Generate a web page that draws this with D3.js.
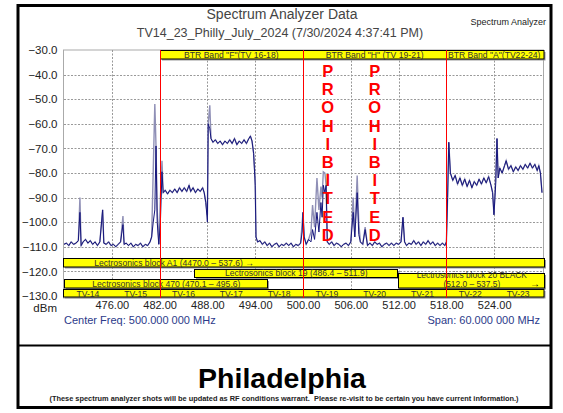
<!DOCTYPE html>
<html><head><meta charset="utf-8">
<script src="https://cdn.jsdelivr.net/npm/d3@7"></script>
<style>body{margin:0;background:#fff}svg{display:block}</style>
</head><body><svg id="c" width="563" height="413"></svg>
<script>
// ---------- DATA ----------
const freqMHz = [
 470.0,470.3,470.6,470.9,471.2,471.5,471.8,472.0,472.15,472.4,472.7,473.0,473.3,473.6,473.9,474.2,474.5,474.85,475.0,475.3,475.6,475.9,476.2,476.5,476.8,477.1,477.4,477.55,477.8,478.1,478.4,478.7,479.0,479.3,479.6,479.9,480.2,480.5,480.8,481.0,
 481.2,481.4,481.55,481.7,481.9,482.1,482.3,482.45,482.7,483.0,483.3,483.6,483.9,484.2,484.5,484.8,485.1,485.4,485.7,485.9,486.2,486.5,486.8,487.1,487.4,487.6,487.8,488.0,
 488.1,488.3,488.45,488.7,489.0,489.3,489.6,489.9,490.2,490.5,490.8,491.1,491.4,491.7,492.0,492.3,492.6,492.9,493.2,493.4,493.6,493.8,494.0,
 494.1,494.3,494.6,494.9,495.2,495.5,495.8,496.1,496.4,496.7,497.0,497.3,497.6,497.9,498.2,498.5,498.8,499.1,499.4,499.7,499.9,
 500.0,500.15,500.4,500.7,501.0,501.2,501.45,501.75,502.0,502.25,502.4,502.55,502.75,502.9,503.05,503.3,503.6,503.9,504.2,504.5,504.8,505.1,505.4,505.7,506.0,506.3,506.5,506.8,507.0,507.2,
 507.5,507.8,508.1,508.4,508.7,509.0,509.3,509.6,509.9,510.2,510.5,510.8,511.1,511.4,511.7,512.0,512.3,512.55,512.75,513.0,513.3,513.6,513.9,514.2,514.5,514.8,515.1,515.4,515.7,516.0,516.3,516.6,516.9,517.2,517.5,517.8,518.0,
 518.15,518.3,518.5,518.8,519.1,519.4,519.7,520.0,520.3,520.6,520.9,521.2,521.5,521.8,522.1,522.4,522.7,523.0,523.3,523.6,523.8,523.97,
 524.2,524.35,524.5,524.7,525.0,525.3,525.5,525.8,526.1,526.4,526.7,527.0,527.3,527.6,527.9,528.2,528.5,528.8,529.1,529.4,529.6,529.8,530.0
];
const liveDbm = [
 -109,-108.5,-109.5,-108,-109,-108.5,-107.5,-96,-109.5,-108,-107,-108.5,-107.5,-109,-108,-109.5,-108,-95,-108.5,-109,-108,-109.5,-109,-110,-109,-108,-101,-109,-108.5,-109.5,-108.5,-110,-109,-109.5,-108.5,-110,-109,-109.5,-108,-106,
 -100,-95,-69,-100,-109,-100,-79.5,-88,-87,-88.5,-87,-88,-86.5,-88,-86,-87.5,-86,-87.5,-85,-87.5,-86,-88,-86.5,-87.5,-86,-88,-92,-100,
 -60,-62,-66,-67.5,-66.5,-68,-67,-68.5,-67,-68,-66.5,-68,-66,-68.5,-67,-68,-66.5,-68,-66,-65,-67,-72,-85,
 -106,-108,-107.5,-109,-108,-109.5,-108.5,-110,-109,-108.5,-110,-109,-109.5,-108.5,-109.5,-108.5,-110,-109,-109.5,-108.5,-104,
 -96,-106,-109,-107,-108,-103,-107,-96,-104,-92,-98,-85,-88,-85,-108,-109,-108,-109.5,-108.5,-109,-110,-109,-108.5,-109.5,-108,-96,-106,-88,-105,-108,
 -109,-103,-109.5,-108.5,-109.5,-108,-109,-108.5,-110,-109,-108.5,-109.5,-108.5,-109.5,-108.5,-109,-108,-98,-108,-109.5,-108.5,-109,-107.5,-109,-108,-109.5,-108,-109,-107.5,-109,-108,-109.5,-108.5,-109.5,-108.5,-109.5,-108,
 -90,-67.5,-80,-83,-81,-84.5,-82,-85,-82.5,-85.5,-83,-86,-83.5,-85,-82.5,-84.5,-82,-84,-81.5,-85,-88,-97,
 -84,-66,-82,-78,-80,-77,-75,-78.5,-77,-79.5,-77.5,-79,-77,-78.5,-76.5,-78,-76,-78,-76.5,-79,-77,-80,-88
];
// peak-hold trace: equal to the live trace except where a held peak rises above it
const peakFreqs = [472.0,477.4,481.2,481.4,481.7,482.1,482.3,488.0,488.3,494.0,499.9,501.0,501.2,501.45,501.75,502.0,502.25,502.4,502.55,502.75,506.3,506.8,507.0,507.8,524.2];
const peakVals  = [-90,-97.5,-79,-52,-95,-90,-75,-97,-52.5,-82,-100,-104,-93,-102,-82,-95,-85.5,-90,-79.5,-80,-90,-81,-100,-102,-80];
const yTicks = [-30,-40,-50,-60,-70,-80,-90,-100,-110,-120,-130];
const xTicks = [476,482,488,494,500,506,512,518,524];
const bandEdges = [482,500,518];
const btrLabels = ['BTR Band "F"(TV 16-18)','BTR Band "H" (TV 19-21)','BTR Band "A"(TV22-24)'];
const btrRanges = [[482,500],[500,518],[518,530]];
const tvLabels = ["TV-14","TV-15","TV-16","TV-17","TV-18","TV-19","TV-20","TV-21","TV-22","TV-23"];
const tvStart = [470,476,482,488,494,500,506,512,518,524];
const blockNames = ["Lectrosonics block A1 (4470.0 – 537.6) →","Lectrosonics block 19 (486.4 – 511.9)","Lectrosonics block 470 (470.1 – 495.6)","Lectrosonics block 20 BLACK|(512.0 – 537.5)"];
const blockLo = [470,486.4,470.1,512.0];
const blockHi = [537.6,511.9,495.6,537.5];
const prohibitedWord = "PROHIBITED";
const prohibitedAt = [503.1,509.0];

// ---------- LAYOUT ----------
const svg = d3.select("#c");
const X0 = 64, X1 = 542, XB = 544, YT = 50, YB = 298;
const x = d3.scaleLinear().domain([470,530]).range([X0,X1]);
const y = d3.scaleLinear().domain([-30,-130]).range([YT,296]);
const font = "Arial, 'Liberation Sans', sans-serif";

svg.append("rect").attr("width",563).attr("height",413).attr("fill","#fff");

// titles
svg.append("text").attr("x",282).attr("y",19).attr("text-anchor","middle")
  .attr("font-family",font).attr("font-size",14).attr("fill","#444").text("Spectrum Analyzer Data");
svg.append("text").attr("x",280).attr("y",37).attr("text-anchor","middle")
  .attr("font-family",font).attr("font-size",12.5).attr("fill","#444").text("TV14_23_Philly_July_2024 (7/30/2024 4:37:41 PM)");

// plot background & grid
const g = svg.append("g");
g.append("rect").attr("x",X0-0.5).attr("y",YT).attr("width",XB-X0).attr("height",YB-YT)
  .attr("fill","#fff").attr("stroke","#aaa");
g.selectAll("line.hg").data(yTicks.slice(1,-1)).join("line")
  .attr("x1",X0).attr("x2",XB).attr("y1",d=>Math.round(y(d))+0.5).attr("y2",d=>Math.round(y(d))+0.5)
  .attr("stroke","#999").attr("stroke-dasharray","2,1.5").attr("stroke-width",1);
g.selectAll("line.vg").data(xTicks.filter(t=>!bandEdges.includes(t))).join("line")
  .attr("x1",d=>Math.round(x(d))+0.5).attr("x2",d=>Math.round(x(d))+0.5).attr("y1",YT).attr("y2",YB)
  .attr("stroke","#999").attr("stroke-dasharray","2,1.5").attr("stroke-width",1);

// axes labels
const yAxis = d3.axisLeft(y).tickValues(yTicks).tickSize(0).tickPadding(6).tickFormat(d3.format(".1f"));
const ya = svg.append("g").attr("transform",`translate(${X0-0.5},0)`).call(yAxis);
ya.select(".domain").remove();
ya.selectAll("text").attr("font-family",font).attr("font-size",11.5).attr("fill","#222");
const xAxis = d3.axisBottom(x).tickValues(xTicks).tickSize(0).tickPadding(3).tickFormat(d3.format(".2f"));
const xa = svg.append("g").attr("transform",`translate(0,${YB})`).call(xAxis);
xa.select(".domain").remove();
xa.selectAll("text").attr("font-family",font).attr("font-size",11).attr("fill","#222");
svg.append("text").attr("x",57).attr("y",312).attr("text-anchor","end").attr("font-family",font)
  .attr("font-size",11.5).attr("fill","#222").text("dBm");
svg.append("text").attr("x",64).attr("y",324).attr("font-family",font)
  .attr("font-size",11).attr("fill","#2b3a8a").text("Center Freq: 500.000 000 MHz");
svg.append("text").attr("x",540).attr("y",324).attr("text-anchor","end").attr("font-family",font)
  .attr("font-size",11).attr("fill","#2b3a8a").text("Span: 60.000 000 MHz");

// traces
const n = Math.min(freqMHz.length, liveDbm.length);
const idx = d3.range(n);
const peakMap = new Map(peakFreqs.map((f,i)=>[f,peakVals[i]]));
const peakAt = i => peakMap.has(freqMHz[i]) ? peakMap.get(freqMHz[i]) : liveDbm[i];
svg.append("clipPath").attr("id","pc").append("rect").attr("x",X0).attr("y",YT).attr("width",X1-X0+1).attr("height",YB-YT);
const tr = svg.append("g").attr("clip-path","url(#pc)");
tr.append("path").datum(idx).attr("fill","none").attr("stroke","#8f8fb6").attr("stroke-width",1.4)
  .attr("d",d3.line().x(i=>x(freqMHz[i])).y(i=>y(peakAt(i))));
tr.append("path").datum(idx).attr("fill","none").attr("stroke","#16167c").attr("stroke-width",1)
  .attr("d",d3.line().x(i=>x(freqMHz[i])).y(i=>y(liveDbm[i])));

// yellow box helper
function ybox(parent,x0,y0,w,h){
  parent.append("rect").attr("x",x0+1.5).attr("y",y0+1.5).attr("width",w).attr("height",h).attr("fill","#9a9a9a");
  parent.append("rect").attr("x",x0).attr("y",y0).attr("width",w).attr("height",h)
    .attr("fill","#ffff00").attr("stroke","#000").attr("stroke-width",1);
}
const lab = svg.append("g");

// top BTR bar
ybox(lab, Math.round(x(482))+0.5, 50.5, XB-Math.round(x(482))-0.5, 8.5);
btrLabels.forEach((t,i)=>{
  lab.append("text").attr("x",(x(btrRanges[i][0])+x(btrRanges[i][1]))/2).attr("y",57.5)
    .attr("text-anchor","middle").attr("font-family",font).attr("font-size",8.6).attr("fill","#333").text(t);
});

// bottom blocks
const rowY = [258.5,269.5,279.5,273.5];
const rowH = [8.5,8,8.5,14.5];
const order = [0,2,1,3];
order.forEach(i=>{
  const a = Math.max(x(blockLo[i]),X0-1), b = Math.min(x(blockHi[i]),XB+1);
  ybox(lab, Math.round(a)-0.5, rowY[i], Math.round(b)-Math.round(a), rowH[i]);
  const parts = blockNames[i].split("|");
  if(parts.length===1){
    const cx = i===0 ? 174 : (a+b)/2;
    lab.append("text").attr("x",cx).attr("y",rowY[i]+rowH[i]-1.5).attr("text-anchor","middle")
      .attr("font-family",font).attr("font-size",8.6).attr("fill","#333").text(parts[0]);
  } else {
    const cx=(a+b)/2;
    lab.append("text").attr("x",cx).attr("y",rowY[i]+4.5).attr("text-anchor","middle")
      .attr("font-family",font).attr("font-size",8.4).attr("fill","#333").text(parts[0]);
    lab.append("text").attr("x",cx).attr("y",rowY[i]+13.5).attr("text-anchor","middle")
      .attr("font-family",font).attr("font-size",8.4).attr("fill","#333").text(parts[1]);
    lab.append("text").attr("x",b-5).attr("y",rowY[i]+13.5).attr("text-anchor","end")
      .attr("font-family",font).attr("font-size",10).attr("fill","#000").text("→");
  }
});

// TV channel bar
ybox(lab, X0-0.5, 289.5, XB-X0+0.5, 7.5);
tvLabels.forEach((t,i)=>{
  lab.append("text").attr("x",x(tvStart[i]+3)).attr("y",296.5).attr("text-anchor","middle")
    .attr("font-family",font).attr("font-size",8.6).attr("fill","#333").text(t);
});

// red band edge lines
svg.selectAll("line.red").data(bandEdges).join("line")
  .attr("x1",d=>Math.round(x(d))+0.5).attr("x2",d=>Math.round(x(d))+0.5).attr("y1",YT).attr("y2",YB)
  .attr("stroke","#ff0000").attr("stroke-width",1);

// PROHIBITED columns
prohibitedAt.forEach(f=>{
  prohibitedWord.split("").forEach((ch,k)=>{
    svg.append("text").attr("x",x(f)).attr("y",77+k*18.2).attr("text-anchor","middle")
      .attr("font-family",font).attr("font-weight","bold").attr("font-size",16.5).attr("fill","#ff0000").text(ch);
  });
});

// frame
svg.append("rect").attr("x",18).attr("y",5.5).attr("width",533).attr("height",402).attr("fill","none")
  .attr("stroke","#000").attr("stroke-width",3);
svg.append("line").attr("x1",18).attr("x2",551).attr("y1",345.5).attr("y2",345.5).attr("stroke","#000").attr("stroke-width",2);
svg.append("text").attr("x",546).attr("y",25).attr("text-anchor","end")
  .attr("font-family",font).attr("font-size",9).attr("fill","#222").text("Spectrum Analyzer");

// footer
svg.append("text").attr("x",282).attr("y",388).attr("text-anchor","middle").attr("font-family",font)
  .attr("font-weight","bold").attr("font-size",28.5).attr("fill","#000").text("Philadelphia");
svg.append("text").attr("x",284).attr("y",401).attr("text-anchor","middle").attr("font-family",font)
  .attr("font-weight","bold").attr("font-size",7.4).attr("fill","#222").attr("xml:space","preserve")
  .text("(These spectrum analyzer shots will be updated as RF conditions warrant.  Please re-visit to be certain you have current information.)");
</script></body></html>
